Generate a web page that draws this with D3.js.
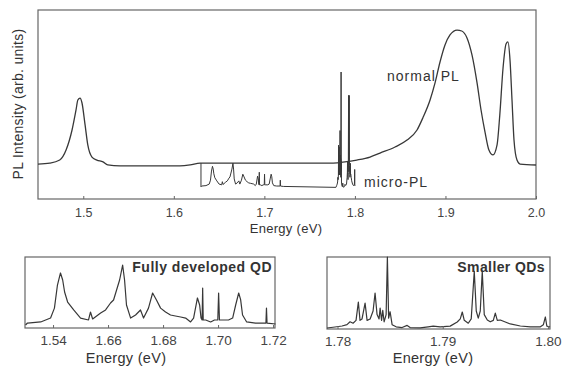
<!DOCTYPE html>
<html lang="en">
<head>
<meta charset="UTF-8">
<title>PL spectra</title>
<script src="https://d3js.org/d3.v7.min.js"></script>
<style>
  body { margin: 0; background: #fff; }
  svg text { font-family: "Liberation Sans", Arial, sans-serif; fill: #333; }
  .frame { fill: none; stroke: #666; stroke-width: 1.2px; }
  .trace { fill: none; stroke: #383838; stroke-width: 1.2px; stroke-linejoin: round; }
  .axis line { stroke: #666; }
  .axis path { display: none; }
</style>
</head>
<body>
<div id="chart"></div>
<script>
// normal PL spectrum (energy eV, intensity arb.)
const normalE = [1.45,1.463,1.474,1.481,1.4876,1.492,1.494,1.4964,1.4986,1.502,1.505,1.5096,1.515,1.5218,1.527,1.5406,1.5737,1.6068,1.618,1.629,1.684,1.776,1.789,1.802,1.8167,1.8277,1.8443,1.8576,1.8686,1.875,1.883,1.8885,1.894,1.8995,1.905,1.9128,1.918,1.9238,1.9293,1.9349,1.9393,1.9437,1.948,1.9525,1.957,1.96,1.9636,1.9669,1.969,1.9713,1.9735,1.9757,1.979,1.9824,2.0];
const normalI = [18.5,19,20.6,25.9,36.5,47.1,52.4,53.4,50.8,39.2,28.6,22.2,20.6,19.6,18,17.5,17.5,17.5,18,19,19,19,19.6,20.6,22.2,24.3,27.5,31.2,36.5,42.9,52.4,61.4,72.5,81.5,86.8,89.4,88.9,85.2,76.2,61.4,47.1,35.4,25.9,23.3,28.6,44.4,69.3,82,83.1,73.5,52.4,31.2,20.6,18.5,18];

// micro-PL, fully developed QD (1.63 - 1.72 eV)
const fullyE = [1.630,1.6307,1.6355,1.6391,1.6405,1.6416,1.6427,1.6435,1.6442,1.6453,1.6475,1.65,1.6529,1.6536,1.6544,1.6573,1.6591,1.6609,1.662,1.6631,1.6642,1.6653,1.666,1.6667,1.6682,1.67,1.6718,1.6729,1.6747,1.6762,1.6776,1.6791,1.6809,1.6827,1.6845,1.6864,1.6882,1.69,1.6911,1.6925,1.6933,1.6938,1.6942,1.6944,1.6946,1.6955,1.6973,1.6987,1.6999,1.7002,1.7005,1.7013,1.7038,1.7053,1.7064,1.7075,1.7082,1.7089,1.7104,1.7136,1.7162,1.7174,1.7176,1.7178,1.7209];
const fullyI = [4.2,7,8.5,14,28,60.5,77.5,67.6,50.7,36.6,25.4,14,11.3,22.5,12.7,21,25.4,35.2,39.4,53.5,67.6,88.7,67.6,32.4,14,18.3,25.4,14,28,49.3,39.4,28,22.5,18.3,16.9,15.5,14,8.5,14,42.3,32.4,14,11.3,56.3,11.3,11.3,8.5,11.3,11.3,49.3,11.3,11.3,11.3,14,32.4,49.3,40,18.3,8.5,7,7,7,28,7,5.6];

// micro-PL, smaller QDs (1.78 - 1.80 eV)
const smallE = [1.7790,1.77976,1.78043,1.7809,1.78119,1.78148,1.78176,1.78198,1.78214,1.78233,1.78262,1.78281,1.7831,1.78338,1.78357,1.78376,1.78395,1.78405,1.78419,1.7843,1.78443,1.78462,1.78474,1.78486,1.785,1.78519,1.78557,1.78614,1.78662,1.7869,1.78786,1.78862,1.7891,1.78976,1.79071,1.79138,1.79167,1.79186,1.79205,1.79243,1.79271,1.793,1.79319,1.79338,1.79357,1.79376,1.79395,1.79424,1.79452,1.79481,1.795,1.79519,1.79548,1.79595,1.79643,1.79738,1.79833,1.79929,1.79957,1.79976,1.7999,1.8002];
const smallI = [1.4,2.8,4.2,6,10,8,12,37.5,12,14,36,12,14,25,50,20,14,29,12,26,10,20,100,15,24,6,3,2,5,2,1.5,3,4,3,4,9.7,14,23.6,12,8,14,80,25,15,25,80,20,12.5,10,12,22,12,12.5,9.7,7,4.2,3,3,6,16.7,4,2.8];

const mainTicks = [1.5, 1.6, 1.7, 1.8, 1.9, 2.0];
const fullyTicks = [1.64, 1.66, 1.68, 1.70, 1.72];
const fullyTickLabels = ["1.54", "1.66", "1.68", "1.70", "1.72"];
const smallTicks = [1.78, 1.79, 1.80];

const W = 564, H = 369;
const svg = d3.select("#chart").append("svg").attr("width", W).attr("height", H);

const line = d3.line().x(d => d[0]).y(d => d[1]);
const zip = (E, I, xs, ys) => E.map((e, i) => [xs(e), ys(I[i])]);

function label(g, x, y, txt, size, opts = {}) {
  return g.append("text").attr("x", x).attr("y", y)
    .attr("text-anchor", opts.anchor || "start")
    .style("font-size", size + "px")
    .style("letter-spacing", (opts.ls || 0) + "px")
    .style("font-weight", opts.bold ? "bold" : "normal")
    .text(txt);
}

// ---------- main panel ----------
const xMain = d3.scaleLinear().domain([1.45, 2.0]).range([38, 536]);
const yMain = d3.scaleLinear().domain([0, 100]).range([199, 10]);
const yMicroA = d3.scaleLinear().domain([0, 100]).range([188, 160]);
const yMicroB = d3.scaleLinear().domain([0, 100]).range([189, 72]);

const main = svg.append("g");
main.append("rect").attr("class", "frame").attr("x", 38).attr("y", 10).attr("width", 498).attr("height", 189);

main.append("path").attr("class", "trace").style("stroke-width", "1.3px")
  .attr("d", d3.line().x(d => xMain(d[0])).y(d => yMain(d[1])).curve(d3.curveMonotoneX)(normalE.map((e, i) => [e, normalI[i]])));

// micro-PL trace in the main panel: bracket line then both regions
const microPts = [[xMain(fullyE[0]), yMain(19)]]
  .concat(zip(fullyE, fullyI, xMain, yMicroA))
  .concat(zip(smallE, smallI, xMain, yMicroB));
main.append("path").attr("class", "trace").style("stroke-width", "1px").attr("d", line(microPts));

const axM = d3.axisBottom(xMain).tickValues(mainTicks).tickSize(-3).tickPadding(9).tickFormat(d3.format(".1f"));
main.append("g").attr("class", "axis").attr("transform", "translate(0,199)").call(axM)
  .selectAll("text").style("font-size", "12.5px").style("fill", "#444");

label(main, 286, 233, "Energy (eV)", 13, { anchor: "middle", ls: 0.3 });
main.append("text").attr("transform", "translate(23,104) rotate(-90)").attr("text-anchor", "middle")
  .style("font-size", "14px").style("letter-spacing", "0.3px").text("PL Intensity (arb. units)");
label(main, 387, 81, "normal PL", 14, { ls: 1 });
label(main, 364, 187, "micro-PL", 14, { ls: 1 });

// ---------- lower left: fully developed QD ----------
const xFully = d3.scaleLinear().domain([1.6298, 1.7207]).range([25, 275]);
const yFully = d3.scaleLinear().domain([0, 100]).range([328, 257]);
const ll = svg.append("g");
ll.append("rect").attr("class", "frame").attr("x", 25).attr("y", 257).attr("width", 250).attr("height", 71);
ll.append("path").attr("class", "trace").attr("d", line(zip(fullyE, fullyI, xFully, yFully)));
const axL = d3.axisBottom(xFully).tickValues(fullyTicks).tickSize(-3).tickPadding(7).tickFormat((d, i) => fullyTickLabels[i]);
ll.append("g").attr("class", "axis").attr("transform", "translate(0,328)").call(axL)
  .selectAll("text").style("font-size", "13.5px").style("fill", "#444");
label(ll, 126, 363, "Energy (eV)", 14.5, { anchor: "middle", ls: 0.3 });
label(ll, 272, 272, "Fully developed QD", 14, { anchor: "end", bold: true, ls: 0.5 });

// ---------- lower right: smaller QDs ----------
const xSmall = d3.scaleLinear().domain([1.779, 1.8002]).range([327, 550]);
const ySmall = d3.scaleLinear().domain([0, 100]).range([329, 257]);
const lr = svg.append("g");
lr.append("rect").attr("class", "frame").attr("x", 327).attr("y", 257).attr("width", 223).attr("height", 72);
lr.append("path").attr("class", "trace").attr("d", line(zip(smallE, smallI, xSmall, ySmall)));
const axR = d3.axisBottom(xSmall).tickValues(smallTicks).tickSize(-3).tickPadding(7).tickFormat(d3.format(".2f"));
lr.append("g").attr("class", "axis").attr("transform", "translate(0,329)").call(axR)
  .selectAll("text").style("font-size", "13.5px").style("fill", "#444");
label(lr, 433, 363, "Energy (eV)", 14.5, { anchor: "middle", ls: 0.3 });
label(lr, 545, 272, "Smaller QDs", 14, { anchor: "end", bold: true, ls: 0.4 });
</script>
</body>
</html>
